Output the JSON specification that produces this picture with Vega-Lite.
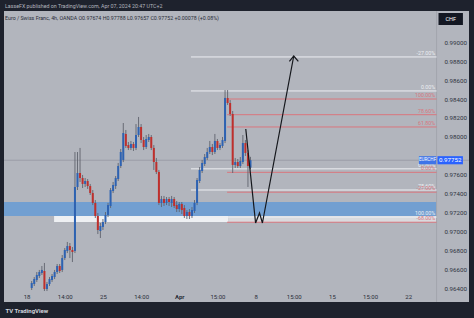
{
  "$schema": "https://vega.github.io/schema/vega-lite/v6.json",
  "autosize": {"type": "none"},
  "width": 465,
  "height": 291,
  "padding": {"left": 4, "top": 11, "right": 5, "bottom": 16},
  "background": "#1e222d",
  "config": {
    "view": {"fill": "#b2b5bd", "stroke": null},
    "font": "Roboto",
    "axis": {"labelOverlap": false, "labelSeparation": 0}
  },
  "title": {
    "text": "LasseFX published on TradingView.com, Apr 07, 2024 20:47 UTC+2",
    "subtitle": "Euro / Swiss Franc, 4h, OANDA  O0.97674  H0.97788  L0.97657  C0.97752  +0.00078 (+0.08%)",
    "anchor": "start", "frame": "group", "offset": -11, "dx": 1,
    "fontSize": 5.3, "fontWeight": "normal", "color": "#b2b5be",
    "subtitleFontSize": 5.3, "subtitleColor": "#2a2e39", "subtitlePadding": 7
  },
  "datasets": {
    "one": [{"label": "EURCHF", "last": 0.97752, "currency": "CHF"}],
    "candles": [
      {"i":2,"o":0.96400,"h":0.96474,"l":0.96379,"c":0.96453},
      {"i":3,"o":0.96442,"h":0.96516,"l":0.96421,"c":0.96495},
      {"i":4,"o":0.96485,"h":0.96569,"l":0.96464,"c":0.96538},
      {"i":5,"o":0.96527,"h":0.96591,"l":0.96506,"c":0.96569},
      {"i":6,"o":0.96559,"h":0.96633,"l":0.96538,"c":0.96591},
      {"i":7,"o":0.96580,"h":0.96665,"l":0.96368,"c":0.96389},
      {"i":8,"o":0.96389,"h":0.96464,"l":0.96368,"c":0.96442},
      {"i":9,"o":0.96442,"h":0.96516,"l":0.96421,"c":0.96495},
      {"i":10,"o":0.96485,"h":0.96548,"l":0.96464,"c":0.96527},
      {"i":11,"o":0.96516,"h":0.96591,"l":0.96495,"c":0.96569},
      {"i":12,"o":0.96569,"h":0.96654,"l":0.96548,"c":0.96633},
      {"i":13,"o":0.96633,"h":0.96654,"l":0.96559,"c":0.96580},
      {"i":14,"o":0.96591,"h":0.96749,"l":0.96569,"c":0.96717},
      {"i":15,"o":0.96717,"h":0.96823,"l":0.96696,"c":0.96802},
      {"i":16,"o":0.96792,"h":0.96887,"l":0.96770,"c":0.96844},
      {"i":17,"o":0.96844,"h":0.96876,"l":0.96717,"c":0.96802},
      {"i":18,"o":0.96802,"h":0.96834,"l":0.96675,"c":0.96781},
      {"i":19,"o":0.96792,"h":0.97839,"l":0.96770,"c":0.97469},
      {"i":20,"o":0.97469,"h":0.97839,"l":0.97437,"c":0.97617},
      {"i":21,"o":0.97617,"h":0.97882,"l":0.97522,"c":0.97564},
      {"i":22,"o":0.97564,"h":0.97596,"l":0.97458,"c":0.97501},
      {"i":23,"o":0.97501,"h":0.97564,"l":0.97469,"c":0.97532},
      {"i":24,"o":0.97532,"h":0.97553,"l":0.97448,"c":0.97479},
      {"i":25,"o":0.97479,"h":0.97501,"l":0.97384,"c":0.97405},
      {"i":26,"o":0.97405,"h":0.97437,"l":0.97278,"c":0.97300},
      {"i":27,"o":0.97300,"h":0.97331,"l":0.97141,"c":0.97162},
      {"i":28,"o":0.97162,"h":0.97194,"l":0.96971,"c":0.97014},
      {"i":29,"o":0.97003,"h":0.97088,"l":0.96929,"c":0.97056},
      {"i":30,"o":0.97046,"h":0.97130,"l":0.97014,"c":0.97098},
      {"i":31,"o":0.97098,"h":0.97204,"l":0.97077,"c":0.97173},
      {"i":32,"o":0.97173,"h":0.97300,"l":0.97151,"c":0.97278},
      {"i":33,"o":0.97268,"h":0.97458,"l":0.97247,"c":0.97437},
      {"i":34,"o":0.97426,"h":0.97522,"l":0.97405,"c":0.97490},
      {"i":35,"o":0.97479,"h":0.97585,"l":0.97448,"c":0.97564},
      {"i":36,"o":0.97553,"h":0.97723,"l":0.97532,"c":0.97691},
      {"i":37,"o":0.97691,"h":0.97871,"l":0.97670,"c":0.97839},
      {"i":38,"o":0.97755,"h":0.98146,"l":0.97733,"c":0.98040},
      {"i":39,"o":0.98030,"h":0.98072,"l":0.97882,"c":0.97903},
      {"i":40,"o":0.97913,"h":0.97945,"l":0.97860,"c":0.97882},
      {"i":41,"o":0.97882,"h":0.97956,"l":0.97860,"c":0.97924},
      {"i":42,"o":0.97924,"h":0.97945,"l":0.97850,"c":0.97882},
      {"i":43,"o":0.97882,"h":0.98135,"l":0.97860,"c":0.98019},
      {"i":44,"o":0.98019,"h":0.98210,"l":0.97998,"c":0.98104},
      {"i":45,"o":0.98104,"h":0.98135,"l":0.97934,"c":0.97966},
      {"i":46,"o":0.97966,"h":0.97998,"l":0.97860,"c":0.97892},
      {"i":47,"o":0.97892,"h":0.98019,"l":0.97871,"c":0.97977},
      {"i":48,"o":0.97966,"h":0.98030,"l":0.97945,"c":0.97998},
      {"i":49,"o":0.97998,"h":0.98019,"l":0.97860,"c":0.97882},
      {"i":50,"o":0.97882,"h":0.97913,"l":0.97649,"c":0.97733},
      {"i":51,"o":0.97733,"h":0.97776,"l":0.97606,"c":0.97628},
      {"i":52,"o":0.97628,"h":0.97649,"l":0.97278,"c":0.97300},
      {"i":53,"o":0.97300,"h":0.97374,"l":0.97257,"c":0.97342},
      {"i":54,"o":0.97342,"h":0.97374,"l":0.97268,"c":0.97300},
      {"i":55,"o":0.97300,"h":0.97363,"l":0.97278,"c":0.97342},
      {"i":56,"o":0.97342,"h":0.97363,"l":0.97268,"c":0.97310},
      {"i":57,"o":0.97300,"h":0.97374,"l":0.97257,"c":0.97342},
      {"i":58,"o":0.97342,"h":0.97363,"l":0.97247,"c":0.97268},
      {"i":59,"o":0.97278,"h":0.97321,"l":0.97204,"c":0.97236},
      {"i":60,"o":0.97236,"h":0.97310,"l":0.97204,"c":0.97289},
      {"i":61,"o":0.97289,"h":0.97310,"l":0.97183,"c":0.97225},
      {"i":62,"o":0.97247,"h":0.97278,"l":0.97141,"c":0.97162},
      {"i":63,"o":0.97162,"h":0.97225,"l":0.97130,"c":0.97204},
      {"i":64,"o":0.97204,"h":0.97236,"l":0.97130,"c":0.97162},
      {"i":65,"o":0.97162,"h":0.97257,"l":0.97141,"c":0.97225},
      {"i":66,"o":0.97215,"h":0.97331,"l":0.97194,"c":0.97300},
      {"i":67,"o":0.97300,"h":0.97564,"l":0.97278,"c":0.97543},
      {"i":68,"o":0.97532,"h":0.97680,"l":0.97511,"c":0.97649},
      {"i":69,"o":0.97638,"h":0.97755,"l":0.97617,"c":0.97723},
      {"i":70,"o":0.97712,"h":0.97818,"l":0.97691,"c":0.97786},
      {"i":71,"o":0.97776,"h":0.97882,"l":0.97755,"c":0.97839},
      {"i":72,"o":0.97839,"h":0.97956,"l":0.97818,"c":0.97892},
      {"i":73,"o":0.97892,"h":0.97924,"l":0.97807,"c":0.97839},
      {"i":74,"o":0.97839,"h":0.98030,"l":0.97818,"c":0.97956},
      {"i":75,"o":0.97956,"h":0.97977,"l":0.97860,"c":0.97882},
      {"i":76,"o":0.97882,"h":0.97934,"l":0.97860,"c":0.97913},
      {"i":77,"o":0.97903,"h":0.97998,"l":0.97882,"c":0.97966},
      {"i":78,"o":0.97956,"h":0.98495,"l":0.97934,"c":0.98411},
      {"i":79,"o":0.98411,"h":0.98495,"l":0.98337,"c":0.98358},
      {"i":80,"o":0.98358,"h":0.98389,"l":0.98220,"c":0.98241},
      {"i":81,"o":0.98241,"h":0.98273,"l":0.97617,"c":0.97702},
      {"i":82,"o":0.97702,"h":0.97776,"l":0.97670,"c":0.97733},
      {"i":83,"o":0.97733,"h":0.97765,"l":0.97670,"c":0.97691},
      {"i":84,"o":0.97691,"h":0.97786,"l":0.97670,"c":0.97744},
      {"i":85,"o":0.97733,"h":0.98019,"l":0.97712,"c":0.97934},
      {"i":86,"o":0.97934,"h":0.97966,"l":0.97797,"c":0.97829},
      {"i":87,"o":0.97829,"h":0.97860,"l":0.97469,"c":0.97691},
      {"i":88,"o":0.97674,"h":0.97788,"l":0.97657,"c":0.97752}
    ],
    "fibs": [
      {"fib":"white","level":"-27.00%","price":0.98845,"start":64.6},
      {"fib":"white","level":"0.00%","price":0.98485,"start":64.6},
      {"fib":"white","level":"61.80%","price":0.97661,"start":64.6},
      {"fib":"white","level":"78.60%","price":0.97437,"start":64.6},
      {"fib":"white","level":"100.00%","price":0.97151,"start":64.6},
      {"fib":"red","level":"100.00%","price":0.98400,"start":78.8},
      {"fib":"red","level":"78.60%","price":0.98234,"start":78.8},
      {"fib":"red","level":"61.80%","price":0.98104,"start":78.8},
      {"fib":"red","level":"0.00%","price":0.97624,"start":78.8},
      {"fib":"red","level":"-27.00%","price":0.97414,"start":78.8},
      {"fib":"red","level":"-68.00%","price":0.97096,"start":78.8}
    ],
    "zones": [
      {"zone":"demand","from":-10,"to":161.15,"top":0.97310,"bottom":0.97162},
      {"zone":"box","from":10.8,"to":79.2,"top":0.97162,"bottom":0.97098},
      {"zone":"box2","from":79.2,"to":161.15,"top":0.97162,"bottom":0.97098}
    ],
    "arrow": [
      {"seg":"path","ord":1,"i":86.15,"p":0.98083},
      {"seg":"path","ord":2,"i":90.0,"p":0.97088},
      {"seg":"path","ord":3,"i":91.54,"p":0.97194},
      {"seg":"path","ord":4,"i":92.69,"p":0.97088},
      {"seg":"path","ord":5,"i":105.0,"p":0.98855},
      {"seg":"head","ord":1,"i":103.3,"p":0.98797},
      {"seg":"head","ord":2,"i":105.0,"p":0.98855},
      {"seg":"head","ord":3,"i":106.8,"p":0.98797}
    ]
  },
  "layer": [
    {
      "data": {"name": "zones"},
      "mark": {"type": "rect", "clip": true},
      "encoding": {
        "x": {"field": "from", "type": "quantitative", "scale": {"domain": [-6.923, 171.923], "nice": false, "zero": false}},
        "x2": {"field": "to"},
        "y": {"field": "top", "type": "quantitative", "scale": {"domain": [0.962519, 0.993312], "nice": false, "zero": false}},
        "y2": {"field": "bottom"},
        "color": {"condition": [{"test": "datum.zone == 'demand'", "value": "#729fd1"}, {"test": "datum.zone == 'box'", "value": "#eef0f3"}], "value": "#d9dade"}
      }
    },
    {
      "data": {"name": "one"},
      "mark": {"type": "rule", "color": "#8e919a", "strokeWidth": 0.8, "opacity": 0.8},
      "encoding": {"y": {"field": "last", "type": "quantitative"}}
    },
    {
      "data": {"name": "one"},
      "mark": {"type": "rule", "color": "#a2a5ad", "strokeWidth": 1},
      "encoding": {"x": {"datum": 161.15, "type": "quantitative"}}
    },
    {
      "data": {"name": "fibs"},
      "mark": {"type": "rule", "strokeWidth": 1},
      "encoding": {
        "x": {"field": "start", "type": "quantitative"},
        "x2": {"datum": 161.15},
        "y": {"field": "price", "type": "quantitative"},
        "color": {"condition": {"test": "datum.fib == 'white'", "value": "#eceef2"}, "value": "#d9767d"}
      }
    },
    {
      "data": {"name": "fibs"},
      "mark": {"type": "text", "align": "right", "baseline": "bottom", "dy": -1, "fontSize": 5.3},
      "encoding": {
        "x": {"datum": 160.6, "type": "quantitative"},
        "y": {"field": "price", "type": "quantitative"},
        "text": {"field": "level"},
        "color": {"condition": {"test": "datum.fib == 'white'", "value": "#eceef2"}, "value": "#d9767d"}
      }
    },
    {
      "data": {"name": "candles"},
      "mark": {"type": "rule", "color": "#60636d", "strokeWidth": 0.9},
      "encoding": {
        "x": {
          "field": "i", "type": "quantitative",
          "axis": {
            "orient": "bottom", "offset": -11, "domain": false, "ticks": false, "tickSize": 0, "grid": false,
            "values": [0, 15, 30, 45, 60, 75, 90, 105, 120, 135, 150], "tickCount": 40,
            "labelExpr": "['18','14:00','25','14:00','Apr','15:00','8','15:00','15','15:00','22'][round(datum.value/15)]",
            "labelFontSize": 6, "labelColor": "#2a2e39", "labelPadding": 2, "labelFlush": false, "labelOverlap": false,
            "labelFontWeight": {"condition": {"test": "datum.value == 60", "value": "bold"}, "value": "normal"},
            "title": "TV TradingView", "titleAnchor": "start", "titleAlign": "left", "titleX": 1, "titleY": 19,
            "titleBaseline": "middle", "titleFontSize": 6, "titleFontWeight": "bold", "titleColor": "#d1d4dc"
          }
        },
        "y": {
          "field": "l", "type": "quantitative",
          "axis": {
            "orient": "right", "offset": -25, "domain": false, "ticks": false, "tickSize": 0, "grid": false,
            "values": [0.964, 0.966, 0.968, 0.970, 0.972, 0.974, 0.976, 0.980, 0.982, 0.984, 0.986, 0.988, 0.990],
            "tickCount": 40,
            "format": ".5f", "labelFontSize": 6.2, "labelColor": "#2f333e", "labelPadding": 0, "labelAlign": "left",
            "labelOverlap": false, "labelFlush": false, "labelSeparation": 0,
            "title": null
          }
        },
        "y2": {"field": "h"}
      }
    },
    {
      "data": {"name": "candles"},
      "mark": {"type": "bar", "width": 2},
      "encoding": {
        "x": {"field": "i", "type": "quantitative"},
        "y": {"field": "o", "type": "quantitative"},
        "y2": {"field": "c"},
        "color": {"condition": {"test": "datum.c >= datum.o", "value": "#2d62b2"}, "value": "#bf2f2c"}
      }
    },
    {
      "data": {"name": "arrow"},
      "mark": {"type": "line", "color": "#15171c", "strokeWidth": 1.2},
      "encoding": {
        "x": {"field": "i", "type": "quantitative"},
        "y": {"field": "p", "type": "quantitative"},
        "detail": {"field": "seg"},
        "order": {"field": "ord"}
      }
    },
    {
      "data": {"name": "one"},
      "mark": {"type": "rect", "color": "#3f74e8"},
      "encoding": {
        "x": {"datum": 154.2, "type": "quantitative"},
        "x2": {"datum": 161.0},
        "y": {"datum": 0.97795, "type": "quantitative"},
        "y2": {"datum": 0.97709}
      }
    },
    {
      "data": {"name": "one"},
      "mark": {"type": "rect", "color": "#2962ff"},
      "encoding": {
        "x": {"datum": 161.5, "type": "quantitative"},
        "x2": {"datum": 171.5},
        "y": {"datum": 0.97795, "type": "quantitative"},
        "y2": {"datum": 0.97709}
      }
    },
    {
      "data": {"name": "one"},
      "mark": {"type": "text", "color": "#ffffff", "fontSize": 4.6, "align": "center", "baseline": "middle"},
      "encoding": {
        "x": {"datum": 157.6, "type": "quantitative"},
        "y": {"field": "last", "type": "quantitative"},
        "text": {"field": "label"}
      }
    },
    {
      "data": {"name": "one"},
      "mark": {"type": "text", "color": "#ffffff", "fontSize": 6.2, "align": "center", "baseline": "middle"},
      "encoding": {
        "x": {"datum": 166.5, "type": "quantitative"},
        "y": {"field": "last", "type": "quantitative"},
        "text": {"field": "last", "format": ".5f"}
      }
    },
    {
      "data": {"name": "one"},
      "mark": {"type": "rect", "color": "#131722"},
      "encoding": {
        "x": {"datum": 161.9, "type": "quantitative"},
        "x2": {"datum": 171.5},
        "y": {"datum": 0.99310, "type": "quantitative"},
        "y2": {"datum": 0.99183}
      }
    },
    {
      "data": {"name": "one"},
      "mark": {"type": "text", "color": "#ffffff", "fontSize": 5.5, "align": "center", "baseline": "middle"},
      "encoding": {
        "x": {"datum": 166.7, "type": "quantitative"},
        "y": {"datum": 0.99247, "type": "quantitative"},
        "text": {"field": "currency"}
      }
    }
  ]
}
